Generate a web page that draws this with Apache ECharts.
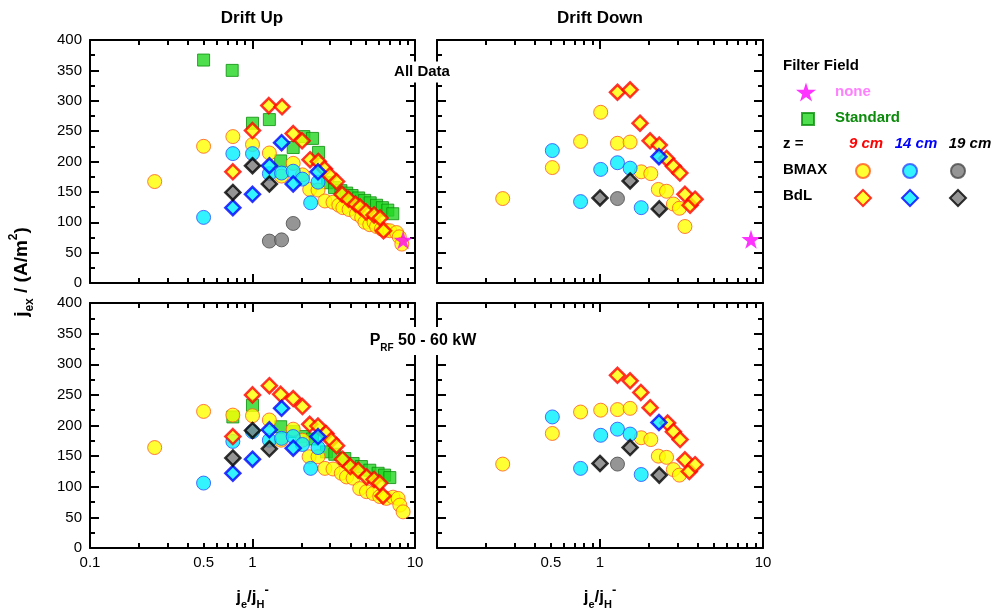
<!DOCTYPE html>
<html>
<head>
<meta charset="utf-8">
<script src="https://cdn.jsdelivr.net/npm/echarts@6/dist/echarts.min.js"></script>
<style>
html, body { margin: 0; padding: 0; background: #fff; }
#chart { width: 997px; height: 616px; }
</style>
</head>
<body>
<div id="chart"></div>
<script>
// values: [je/jH-, jex (A/m2)]

// Drift Up, all data
const upAllStandard = [[0.5,367],[0.75,350],[1.0,263],[1.27,269],[1.49,201],[1.78,223],[2.07,241],[2.34,238],[2.55,215],[2.9,165],[3.2,157],[3.5,152],[3.8,148],[4.1,144],[4.5,140],[4.9,136],[5.3,132],[5.8,128],[6.3,124],[6.8,120],[7.3,114]]
const upAllBmax9 = [[0.25,167],[0.5,225],[0.757,241],[1.0,228],[1.27,214],[1.51,176],[1.78,197],[2.03,178],[2.25,154],[2.53,153],[2.79,135],[3.13,133],[3.4,128],[3.6,124],[3.93,121],[4.37,114],[4.7,108],[4.92,100],[5.27,96],[5.6,100],[5.8,93],[6.22,89],[6.6,87],[7.0,86],[7.7,83],[8.0,76],[8.3,64]]
const upAllBmax14 = [[0.5,108],[0.757,213],[1.0,213],[1.27,180],[1.51,181],[1.78,184],[2.03,171],[2.28,132],[2.53,166]]
const upAllBmax19 = [[1.27,69],[1.51,71],[1.78,98]]
const upAllBdl9 = [[0.757,183],[1.0,251],[1.26,292],[1.52,290],[1.78,246],[2.02,234],[2.26,203],[2.54,200],[2.77,188],[2.99,177],[3.29,167],[3.56,146],[3.9,138],[4.3,130],[4.6,125],[5.0,117],[5.6,112],[6.1,107],[6.4,86]]
const upAllBdl14 = [[0.757,124],[1.0,146],[1.27,193],[1.51,231],[1.78,163],[2.53,183]]
const upAllBdl19 = [[0.757,149],[1.0,193],[1.27,163]]
const upAllNone = [[8.45,71]]

// Drift Down, all data
const downAllBmax9 = [[0.253,139],[0.51,190],[0.76,233],[1.01,281],[1.28,230],[1.53,232],[1.79,183],[2.05,180],[2.28,154],[2.56,151],[2.82,130],[3.07,123],[3.32,93]]
const downAllBmax14 = [[0.51,218],[0.76,134],[1.01,187],[1.28,198],[1.53,189],[1.79,124]]
const downAllBmax19 = [[1.28,139]]
const downAllBdl9 = [[1.28,314],[1.53,318],[1.76,263],[2.03,234],[2.31,227],[2.56,205],[2.82,192],[3.09,181],[3.32,146],[3.57,128],[3.83,138]]
const downAllBdl14 = [[2.3,208]]
const downAllBdl19 = [[1.0,140],[1.53,168],[2.31,122]]
const downAllNone = [[8.44,72]]

// Drift Up, PRF 50 - 60 kW
const upRfStandard = [[0.757,214],[1.0,233],[1.49,198],[1.78,190],[2.07,182],[2.34,178],[2.85,157],[3.21,153],[3.7,146],[4.16,138],[4.68,133],[5.27,127],[5.93,122],[6.5,119],[7.0,115]]
const upRfBmax9 = [[0.25,164],[0.5,223],[0.757,217],[1.0,216],[1.27,209],[1.5,176],[1.78,194],[2.03,176],[2.23,149],[2.53,149],[2.79,130],[3.13,129],[3.52,122],[3.79,116],[4.16,114],[4.57,97],[5.03,92],[5.53,89],[6.07,84],[6.67,81],[7.33,83],[7.87,81],[8.07,70],[8.45,59]]
const upRfBmax14 = [[0.5,106],[0.757,174],[1.0,190],[1.27,176],[1.51,179],[1.78,182],[2.03,169],[2.28,130],[2.53,164]]
const upRfBdl9 = [[0.757,182],[1.0,250],[1.27,265],[1.49,251],[1.78,244],[2.03,231],[2.25,202],[2.53,199],[2.83,187],[3.05,176],[3.29,167],[3.58,145],[4.0,133],[4.47,127],[5.04,116],[5.6,112],[6.07,106],[6.36,85]]
const upRfBdl14 = [[0.757,122],[1.0,145],[1.27,193],[1.51,228],[1.78,163],[2.53,182]]
const upRfBdl19 = [[0.757,147],[1.0,192],[1.27,162]]

// Drift Down, PRF 50 - 60 kW
const downRfBmax9 = [[0.253,137],[0.51,187],[0.76,222],[1.01,225],[1.28,226],[1.53,228],[1.79,180],[2.05,177],[2.28,150],[2.56,148],[2.82,128],[3.07,119]]
const downRfBmax14 = [[0.51,214],[0.76,130],[1.01,184],[1.28,194],[1.53,186],[1.79,120]]
const downRfBmax19 = [[1.28,137]]
const downRfBdl9 = [[1.28,282],[1.53,273],[1.78,254],[2.03,229],[2.6,204],[2.82,190],[3.1,177],[3.32,144],[3.53,125],[3.83,136]]
const downRfBdl14 = [[2.3,205]]
const downRfBdl19 = [[1.0,138],[1.53,164],[2.31,119]]

// axis ticks / labels
const xLabelsLeft = [0.1, 0.5, 1, 10]
const xLabelsRight = [0.5, 1, 10]
const xMinorTicks = [0.2,0.3,0.4,0.5,0.6,0.7,0.8,0.9,2,3,4,5,6,7,8,9]

const FONT = '"Liberation Sans", Arial, Helvetica, sans-serif'
const chart = echarts.init(document.getElementById('chart'))

const grids = [
  { left: 90, top: 40, width: 325, height: 243 },
  { left: 437, top: 40, width: 326, height: 243 },
  { left: 90, top: 303, width: 325, height: 245 },
  { left: 437, top: 303, width: 326, height: 245 }
]

const blackLine = { color: '#000', width: 2 }
const xName = '{j|j}{s|e}{j|/j}{s|H}{p|-}'
const nameRich = {
  j: { fontSize: 17, fontWeight: 'bold', fontFamily: FONT, color: '#000', lineHeight: 26 },
  s: { fontSize: 11, fontWeight: 'bold', fontFamily: FONT, color: '#000', verticalAlign: 'bottom', lineHeight: 12 },
  p: { fontSize: 13, fontWeight: 'bold', fontFamily: FONT, color: '#000', verticalAlign: 'top', lineHeight: 16 }
}

const xAxes = []
const yAxes = []
grids.forEach((g, i) => {
  const bottomRow = i >= 2
  ;['bottom', 'top'].forEach(pos => {
    const labelled = pos === 'bottom' && bottomRow
    xAxes.push({
      type: 'log', logBase: 10, min: 0.1, max: 10, gridIndex: i, position: pos,
      axisLine: { show: true, onZero: false, lineStyle: blackLine },
      axisTick: { show: true, inside: true, length: 9, lineStyle: blackLine },
      axisLabel: {
        show: labelled, customValues: i === 2 ? xLabelsLeft : xLabelsRight,
        formatter: v => String(v), fontSize: 15, color: '#000', fontFamily: FONT, margin: 7
      },
      splitLine: { show: false },
      name: labelled ? xName : '', nameLocation: 'middle', nameGap: 36,
      nameTextStyle: { rich: nameRich }
    })
    xAxes.push({
      type: 'log', logBase: 10, min: 0.1, max: 10, gridIndex: i, position: pos,
      axisLine: { show: false, onZero: false },
      axisTick: { show: true, inside: true, length: 5, customValues: xMinorTicks, lineStyle: blackLine },
      axisLabel: { show: false },
      splitLine: { show: false }
    })
  })
  ;['left', 'right'].forEach(pos => {
    yAxes.push({
      type: 'value', min: 0, max: 400, interval: 50, gridIndex: i, position: pos,
      axisLine: { show: true, onZero: false, lineStyle: blackLine },
      axisTick: { show: true, inside: true, length: 9, lineStyle: blackLine },
      minorTick: { show: true, splitNumber: 2, length: 5, lineStyle: blackLine },
      axisLabel: { show: pos === 'left' && i % 2 === 0, fontSize: 15, color: '#000', fontFamily: FONT, margin: 8 },
      splitLine: { show: false }
    })
  })
})

const starPath = 'path://M50,0 L61,35 L98,35 L68,57 L79,91 L50,70 L21,91 L32,57 L2,35 L39,35 Z'
const styles = {
  'Standard': { symbol: 'rect', symbolSize: 12, itemStyle: { color: '#22d622', borderColor: '#0b8f0b', borderWidth: 1 } },
  'BMAX 9 cm': { symbol: 'circle', symbolSize: 14, itemStyle: { color: '#ffff00', borderColor: '#ff5a1e', borderWidth: 1 } },
  'BMAX 14 cm': { symbol: 'circle', symbolSize: 14, itemStyle: { color: '#00f0ff', borderColor: '#2a4cff', borderWidth: 1 } },
  'BMAX 19 cm': { symbol: 'circle', symbolSize: 14, itemStyle: { color: '#7a7a7a', borderColor: '#4a4a4a', borderWidth: 1 } },
  'BdL 9 cm': { symbol: 'diamond', symbolSize: 15, itemStyle: { color: '#ffff00', borderColor: '#ff0000', borderWidth: 2.5 } },
  'BdL 14 cm': { symbol: 'diamond', symbolSize: 15, itemStyle: { color: '#00f0ff', borderColor: '#0000ff', borderWidth: 2.5 } },
  'BdL 19 cm': { symbol: 'diamond', symbolSize: 15, itemStyle: { color: '#7a7a7a', borderColor: '#000000', borderWidth: 2.5 } },
  'none': { symbol: starPath, symbolSize: 19, itemStyle: { color: '#ff00ff' } }
}

const panels = [
  { 'Standard': upAllStandard, 'BMAX 9 cm': upAllBmax9, 'BMAX 14 cm': upAllBmax14, 'BMAX 19 cm': upAllBmax19,
    'BdL 9 cm': upAllBdl9, 'BdL 14 cm': upAllBdl14, 'BdL 19 cm': upAllBdl19, 'none': upAllNone },
  { 'BMAX 9 cm': downAllBmax9, 'BMAX 14 cm': downAllBmax14, 'BMAX 19 cm': downAllBmax19,
    'BdL 9 cm': downAllBdl9, 'BdL 14 cm': downAllBdl14, 'BdL 19 cm': downAllBdl19, 'none': downAllNone },
  { 'Standard': upRfStandard, 'BMAX 9 cm': upRfBmax9, 'BMAX 14 cm': upRfBmax14,
    'BdL 9 cm': upRfBdl9, 'BdL 14 cm': upRfBdl14, 'BdL 19 cm': upRfBdl19 },
  { 'BMAX 9 cm': downRfBmax9, 'BMAX 14 cm': downRfBmax14, 'BMAX 19 cm': downRfBmax19,
    'BdL 9 cm': downRfBdl9, 'BdL 14 cm': downRfBdl14, 'BdL 19 cm': downRfBdl19 }
]

// drawing order: squares at the back, stars on top
const order = ['Standard', 'BMAX 9 cm', 'BMAX 14 cm', 'BMAX 19 cm', 'BdL 9 cm', 'BdL 14 cm', 'BdL 19 cm', 'none']
const series = []
order.forEach(name => {
  panels.forEach((p, i) => {
    if (!p[name]) return
    series.push(Object.assign({
      type: 'scatter', name: name, xAxisIndex: 4 * i, yAxisIndex: 2 * i,
      data: p[name], emphasis: { disabled: true }
    }, styles[name]))
  })
})

// legend symbols, one legend component per symbol
const legendSpots = [
  { name: 'none', x: 806, y: 92, size: 20 },
  { name: 'Standard', x: 807, y: 118, size: 12 },
  { name: 'BMAX 9 cm', x: 862, y: 170, size: 14 },
  { name: 'BMAX 14 cm', x: 909, y: 170, size: 14 },
  { name: 'BMAX 19 cm', x: 957, y: 170, size: 14 },
  { name: 'BdL 9 cm', x: 862, y: 197, size: 16 },
  { name: 'BdL 14 cm', x: 909, y: 197, size: 16 },
  { name: 'BdL 19 cm', x: 957, y: 197, size: 16 }
]
const legends = legendSpots.map(s => ({
  data: [s.name], left: s.x - s.size / 2, top: s.y - s.size / 2, padding: 0,
  itemWidth: s.size, itemHeight: s.size, formatter: () => '', selectedMode: false
}))

const txt = (text, x, y, opts) => ({
  type: 'text', x: x, y: y, z: 100,
  style: Object.assign({ text: text, font: 'bold 15px ' + FONT, fill: '#000', align: 'left', verticalAlign: 'middle' }, opts || {})
})

const graphic = [
  txt('Drift Up', 252, 18, { font: 'bold 17px ' + FONT, align: 'center' }),
  txt('Drift Down', 600, 18, { font: 'bold 17px ' + FONT, align: 'center' }),
  txt('All Data', 422, 72, { align: 'center', backgroundColor: '#fff', padding: [3, 3] }),
  txt('{p|P}{s|RF}{p| 50 - 60 kW}', 423, 341, {
    align: 'center', backgroundColor: '#fff', padding: [2, 3],
    rich: {
      p: { font: 'bold 16px ' + FONT, fill: '#000', lineHeight: 24 },
      s: { font: 'bold 10px ' + FONT, fill: '#000', verticalAlign: 'bottom', lineHeight: 10 }
    }
  }),
  txt('{j|j}{s|ex}{j| / (A/m}{p|2}{j|)}', 22, 272, {
    align: 'center',
    rich: {
      j: { font: 'bold 19px ' + FONT, fill: '#000', lineHeight: 28 },
      s: { font: 'bold 12px ' + FONT, fill: '#000', verticalAlign: 'bottom', lineHeight: 12 },
      p: { font: 'bold 12px ' + FONT, fill: '#000', verticalAlign: 'top', lineHeight: 12 }
    }
  }),
  txt('Filter Field', 783, 66),
  txt('none', 835, 92, { fill: '#ff80ff' }),
  txt('Standard', 835, 118, { fill: '#0b8a0b' }),
  txt('z =', 783, 144),
  txt('9 cm', 866, 144, { align: 'center', font: 'italic bold 15px ' + FONT, fill: '#ff0000' }),
  txt('14 cm', 916, 144, { align: 'center', font: 'italic bold 15px ' + FONT, fill: '#0000ff' }),
  txt('19 cm', 970, 144, { align: 'center', font: 'italic bold 15px ' + FONT, fill: '#000' }),
  txt('BMAX', 783, 170),
  txt('BdL', 783, 196)
]
graphic[4].rotation = Math.PI / 2

chart.setOption({
  animation: false,
  backgroundColor: '#fff',
  grid: grids,
  xAxis: xAxes,
  yAxis: yAxes,
  legend: legends,
  graphic: graphic,
  series: series
})
</script>
</body>
</html>
